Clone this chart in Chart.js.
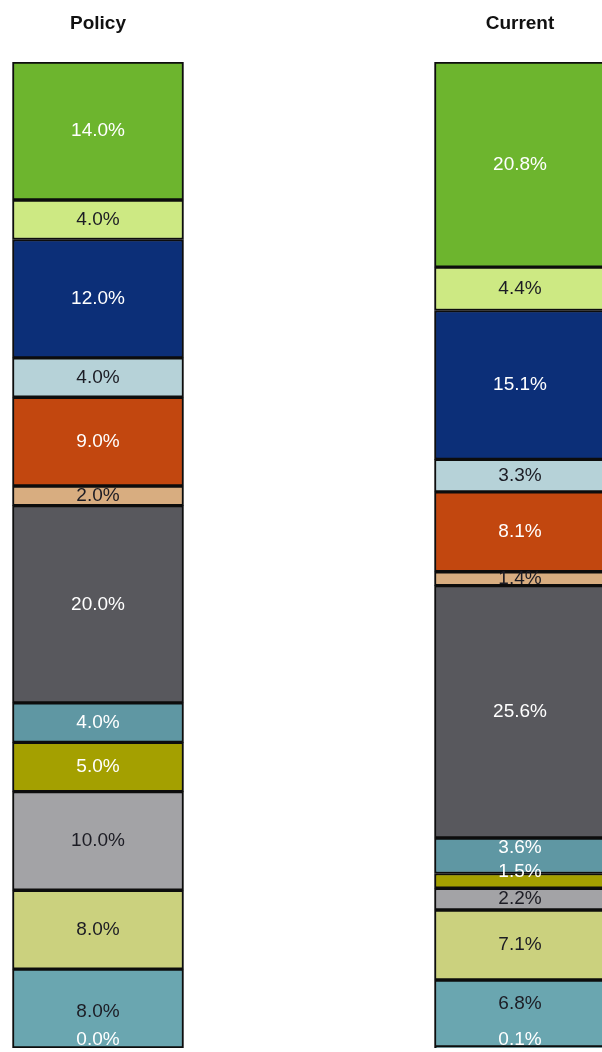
<!DOCTYPE html>
<html>
<head>
<meta charset="utf-8">
<script src="https://cdn.jsdelivr.net/npm/chart.js@4/dist/chart.umd.min.js"></script>
<style>
  html, body { margin: 0; padding: 0; background: #ffffff; overflow: hidden; }
  body { width: 602px; height: 1052px; position: relative; }
  #chart { position: absolute; left: -113px; top: 0; }
</style>
</head>
<body>
<canvas id="chart" width="844" height="1052"></canvas>
<script>
// Portfolio columns
const categories = ['Policy', 'Current'];

// Segment shares in percent, listed from the top of each column down
const greenShare     = [14.0, 20.8];
const limeShare      = [4.0, 4.4];
const navyShare      = [12.0, 15.1];
const paleBlueShare  = [4.0, 3.3];
const rustShare      = [9.0, 8.1];
const tanShare       = [2.0, 1.4];
const charcoalShare  = [20.0, 25.6];
const tealShare      = [4.0, 3.6];
const oliveShare     = [5.0, 1.5];
const greyShare      = [10.0, 2.2];
const khakiShare     = [8.0, 7.1];
const steelShare     = [8.0, 6.8];
const residualShare  = [0.0, 0.1];

const DARK = '#1c1c24';
const LIGHT = '#ffffff';

// top-to-bottom segment list with fill and label colour
const segments = [
  { key: 'green',    data: greenShare,    fill: '#6db52e', text: LIGHT },
  { key: 'lime',     data: limeShare,     fill: '#cde983', text: DARK },
  { key: 'navy',     data: navyShare,     fill: '#0c2f78', text: LIGHT },
  { key: 'paleBlue', data: paleBlueShare, fill: '#b6d2d8', text: DARK },
  { key: 'rust',     data: rustShare,     fill: '#c2470f', text: LIGHT },
  { key: 'tan',      data: tanShare,      fill: '#d8ad80', text: DARK },
  { key: 'charcoal', data: charcoalShare, fill: '#58585d', text: LIGHT },
  { key: 'teal',     data: tealShare,     fill: '#5f97a3', text: LIGHT },
  { key: 'olive',    data: oliveShare,    fill: '#a4a000', text: LIGHT },
  { key: 'grey',     data: greyShare,     fill: '#a3a3a6', text: DARK },
  { key: 'khaki',    data: khakiShare,    fill: '#cbd17e', text: DARK },
  { key: 'steel',    data: steelShare,    fill: '#6aa6b0', text: DARK },
  { key: 'residual', data: residualShare, fill: '#6aa6b0', text: LIGHT }
];

// stacking starts at the bottom, so feed the datasets in reverse
const datasets = segments.slice().reverse().map(s => ({
  label: s.key,
  data: s.data,
  backgroundColor: s.fill,
  borderColor: '#0d0d0d',
  borderWidth: 2,
  borderSkipped: false,
  barThickness: 171,
  textColor: s.text
}));

// vertical label shifts (px) where neighbouring labels would collide
const labelShift = {
  teal:     [0, -8],
  olive:    [0, -9],
  steel:    [3, -10],
  residual: [-8, -8]
};

const segmentLabels = {
  id: 'segmentLabels',
  afterDatasetsDraw(chart) {
    const ctx = chart.ctx;
    ctx.save();
    ctx.font = '19px "Liberation Sans", Arial, sans-serif';
    ctx.textAlign = 'center';
    ctx.textBaseline = 'middle';
    chart.data.datasets.forEach((ds, di) => {
      const meta = chart.getDatasetMeta(di);
      meta.data.forEach((bar, i) => {
        const v = ds.data[i];
        const p = bar.getProps(['x', 'y', 'base'], true);
        const shift = (labelShift[ds.label] || [0, 0])[i];
        ctx.fillStyle = ds.textColor;
        ctx.fillText(v.toFixed(1) + '%', p.x, (p.y + p.base) / 2 + shift);
      });
    });
    ctx.restore();
  }
};

new Chart(document.getElementById('chart'), {
  type: 'bar',
  data: { labels: categories, datasets },
  options: {
    responsive: false,
    animation: false,
    devicePixelRatio: 1,
    layout: { padding: { top: 0, bottom: 4, left: 0, right: 0 } },
    plugins: { legend: { display: false }, tooltip: { enabled: false } },
    scales: {
      x: {
        stacked: true,
        position: 'top',
        grid: { display: false, drawTicks: false },
        border: { display: false },
        ticks: {
          color: '#111111',
          padding: 27,
          font: { family: '"Liberation Sans", Arial, sans-serif', size: 19, weight: 'bold' }
        },
        afterFit(scale) { scale.height = 62; }
      },
      y: {
        stacked: true,
        display: false,
        min: 0,
        max: 100
      }
    }
  },
  plugins: [segmentLabels]
});
</script>
</body>
</html>
